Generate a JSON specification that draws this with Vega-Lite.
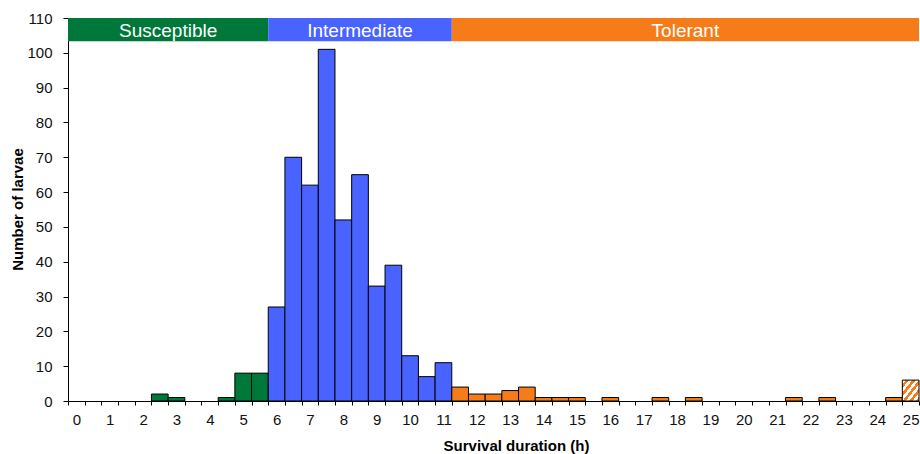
{
  "$schema": "https://vega.github.io/schema/vega-lite/v6.json",
  "width": 851,
  "height": 383,
  "autosize": {"type": "none"},
  "padding": {"left": 68, "top": 18, "right": 1, "bottom": 53},
  "background": "white",
  "config": {
    "font": "Liberation Sans",
    "view": {"stroke": null},
    "axis": {
      "domainColor": "#000",
      "tickColor": "#000",
      "labelColor": "#111",
      "titleColor": "#000",
      "labelFont": "Liberation Sans",
      "titleFont": "Liberation Sans",
      "labelFontSize": 15,
      "titleFontSize": 15,
      "titleFontWeight": "bold",
      "grid": false
    },
    "axisY": {
      "values": [0, 10, 20, 30, 40, 50, 60, 70, 80, 90, 100, 110],
      "labelOverlap": false,
      "labelFlush": false,
      "tickSize": 5,
      "labelPadding": 11,
      "titleX": -51,
      "titleY": 191,
      "titleBaseline": "middle",
      "titleAnchor": "middle"
    }
  },
  "datasets": {
    "bars": [
      {"h": 2.5, "n": 2, "phase": "Susceptible", "censored": false},
      {"h": 3, "n": 1, "phase": "Susceptible", "censored": false},
      {"h": 4.5, "n": 1, "phase": "Susceptible", "censored": false},
      {"h": 5, "n": 8, "phase": "Susceptible", "censored": false},
      {"h": 5.5, "n": 8, "phase": "Susceptible", "censored": false},
      {"h": 6, "n": 27, "phase": "Intermediate", "censored": false},
      {"h": 6.5, "n": 70, "phase": "Intermediate", "censored": false},
      {"h": 7, "n": 62, "phase": "Intermediate", "censored": false},
      {"h": 7.5, "n": 101, "phase": "Intermediate", "censored": false},
      {"h": 8, "n": 52, "phase": "Intermediate", "censored": false},
      {"h": 8.5, "n": 65, "phase": "Intermediate", "censored": false},
      {"h": 9, "n": 33, "phase": "Intermediate", "censored": false},
      {"h": 9.5, "n": 39, "phase": "Intermediate", "censored": false},
      {"h": 10, "n": 13, "phase": "Intermediate", "censored": false},
      {"h": 10.5, "n": 7, "phase": "Intermediate", "censored": false},
      {"h": 11, "n": 11, "phase": "Intermediate", "censored": false},
      {"h": 11.5, "n": 4, "phase": "Tolerant", "censored": false},
      {"h": 12, "n": 2, "phase": "Tolerant", "censored": false},
      {"h": 12.5, "n": 2, "phase": "Tolerant", "censored": false},
      {"h": 13, "n": 3, "phase": "Tolerant", "censored": false},
      {"h": 13.5, "n": 4, "phase": "Tolerant", "censored": false},
      {"h": 14, "n": 1, "phase": "Tolerant", "censored": false},
      {"h": 14.5, "n": 1, "phase": "Tolerant", "censored": false},
      {"h": 15, "n": 1, "phase": "Tolerant", "censored": false},
      {"h": 16, "n": 1, "phase": "Tolerant", "censored": false},
      {"h": 17.5, "n": 1, "phase": "Tolerant", "censored": false},
      {"h": 18.5, "n": 1, "phase": "Tolerant", "censored": false},
      {"h": 21.5, "n": 1, "phase": "Tolerant", "censored": false},
      {"h": 22.5, "n": 1, "phase": "Tolerant", "censored": false},
      {"h": 24.5, "n": 1, "phase": "Tolerant", "censored": false},
      {"h": 25, "n": 6, "phase": "Tolerant", "censored": true}
    ],
    "bands": [
      {"phase": "Susceptible", "start": -0.25, "end": 5.75},
      {"phase": "Intermediate", "start": 5.75, "end": 11.25},
      {"phase": "Tolerant", "start": 11.25, "end": 25.25}
    ]
  },
  "resolve": {"scale": {"x": "independent"}},
  "layer": [
    {
      "data": {"name": "bars"},
      "mark": {"type": "bar", "stroke": "#000", "strokeWidth": 1},
      "encoding": {
        "x": {
          "field": "h",
          "type": "ordinal",
          "scale": {
            "domain": [0, 0.5, 1, 1.5, 2, 2.5, 3, 3.5, 4, 4.5, 5, 5.5, 6, 6.5, 7, 7.5, 8, 8.5, 9, 9.5, 10, 10.5, 11, 11.5, 12, 12.5, 13, 13.5, 14, 14.5, 15, 15.5, 16, 16.5, 17, 17.5, 18, 18.5, 19, 19.5, 20, 20.5, 21, 21.5, 22, 22.5, 23, 23.5, 24, 24.5, 25],
            "paddingInner": 0,
            "paddingOuter": 0
          },
          "axis": {
            "title": "Survival duration (h)",
            "labelExpr": "datum.value % 1 === 0 ? datum.label : ''",
            "labelAngle": 0,
            "labelOverlap": false,
            "tickBand": "extent",
            "tickSize": 4,
            "labelPadding": 7,
            "titleX": 448,
            "titleY": 49,
            "titleBaseline": "alphabetic",
            "titleAnchor": "middle"
          }
        },
        "y": {
          "field": "n",
          "type": "quantitative",
          "scale": {"domain": [0, 110], "nice": false},
          "axis": {"title": "Number of larvae"}
        },
        "fill": {
          "condition": {
            "test": "datum.censored",
            "value": {
              "gradient": "linear",
              "x1": 0, "y1": 0, "x2": 1, "y2": 1,
              "stops": [
                {"offset": 0, "color": "#ffffff"},
                {"offset": 0.1, "color": "#ffffff"},
                {"offset": 0.1, "color": "#F57C18"},
                {"offset": 0.2, "color": "#F57C18"},
                {"offset": 0.2, "color": "#ffffff"},
                {"offset": 0.3, "color": "#ffffff"},
                {"offset": 0.3, "color": "#F57C18"},
                {"offset": 0.4, "color": "#F57C18"},
                {"offset": 0.4, "color": "#ffffff"},
                {"offset": 0.5, "color": "#ffffff"},
                {"offset": 0.5, "color": "#F57C18"},
                {"offset": 0.6, "color": "#F57C18"},
                {"offset": 0.6, "color": "#ffffff"},
                {"offset": 0.7, "color": "#ffffff"},
                {"offset": 0.7, "color": "#F57C18"},
                {"offset": 0.8, "color": "#F57C18"},
                {"offset": 0.8, "color": "#ffffff"},
                {"offset": 0.9, "color": "#ffffff"},
                {"offset": 0.9, "color": "#F57C18"},
                {"offset": 1, "color": "#F57C18"}
              ]
            }
          },
          "field": "phase",
          "type": "nominal",
          "scale": {"domain": ["Susceptible", "Intermediate", "Tolerant"], "range": ["#00783A", "#4863FF", "#F57C18"]},
          "legend": null
        }
      }
    },
    {
      "data": {"name": "bands"},
      "mark": {"type": "rect"},
      "encoding": {
        "x": {"field": "start", "type": "quantitative", "scale": {"domain": [-0.25, 25.25], "nice": false, "zero": false}, "axis": null},
        "x2": {"field": "end"},
        "y": {"datum": 103.3, "type": "quantitative", "axis": {"title": "Number of larvae"}},
        "y2": {"datum": 110},
        "fill": {"field": "phase", "type": "nominal", "legend": null}
      }
    },
    {
      "data": {"name": "bands"},
      "transform": [{"calculate": "(datum.start + datum.end) / 2", "as": "mid"}],
      "mark": {"type": "text", "color": "white", "fontSize": 19, "font": "Liberation Sans", "baseline": "middle", "align": "center", "dy": 1},
      "encoding": {
        "x": {"field": "mid", "type": "quantitative", "scale": {"domain": [-0.25, 25.25], "nice": false, "zero": false}, "axis": null},
        "y": {"datum": 106.65, "type": "quantitative", "axis": {"title": "Number of larvae"}},
        "text": {"field": "phase"}
      }
    }
  ]
}
